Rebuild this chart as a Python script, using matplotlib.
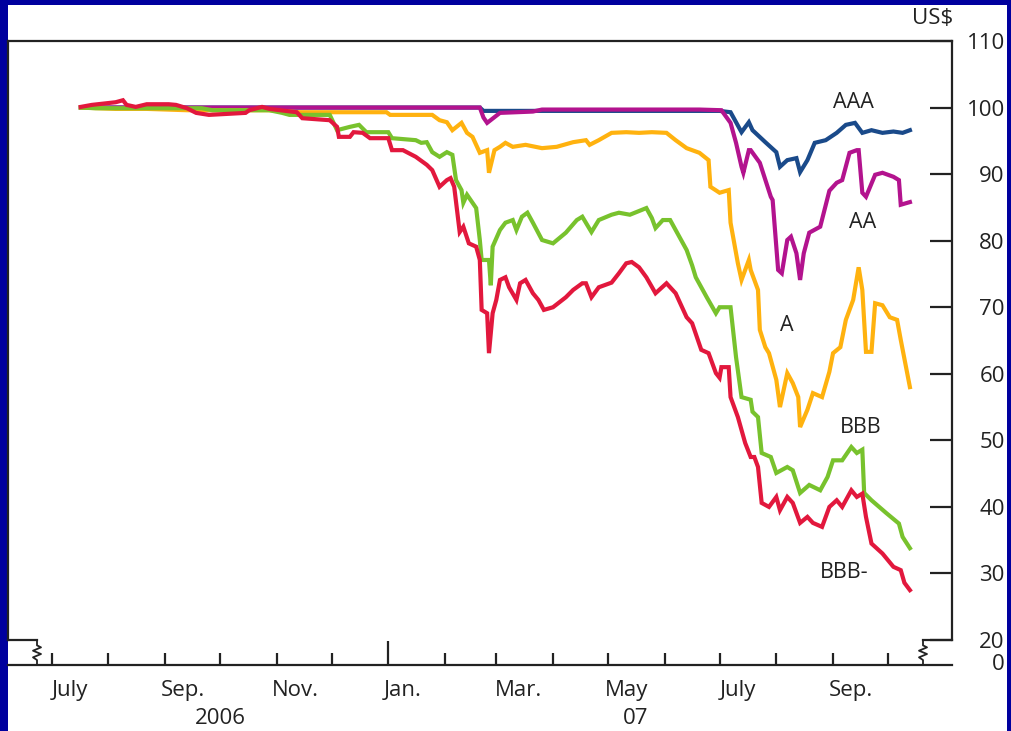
import numpy as np
import matplotlib
matplotlib.use("Agg")
import matplotlib.pyplot as plt
import matplotlib.dates as mdates
import matplotlib.transforms as mtransforms
from matplotlib.patches import Rectangle

plt.rcParams['font.family'] = ['Open Sans', 'DejaVu Sans']

# Prices of sub-prime mortgage-backed indices by rating (US$, start = 100)
aaa_dates = ['2006-07-17', '2007-02-20', '2007-02-22', '2007-07-01', '2007-07-07', '2007-07-13',
             '2007-07-17', '2007-07-19', '2007-07-26', '2007-08-01', '2007-08-03', '2007-08-07',
             '2007-08-12', '2007-08-14', '2007-08-18', '2007-08-22', '2007-08-28', '2007-09-03',
             '2007-09-08', '2007-09-13', '2007-09-17', '2007-09-22', '2007-09-28', '2007-10-04',
             '2007-10-09', '2007-10-13']
aaa_vals = [100, 100, 99.5, 99.5, 99.3, 96.3,
            97.8, 96.6, 94.8, 93.3, 91.1, 92.1,
            92.4, 90.3, 92.1, 94.7, 95.1, 96.2,
            97.4, 97.7, 96.2, 96.6, 96.2, 96.4,
            96.2, 96.6]

aa_dates = ['2006-07-17', '2007-02-20', '2007-02-22', '2007-02-24', '2007-03-03', '2007-03-21',
            '2007-03-26', '2007-06-20', '2007-07-02', '2007-07-07', '2007-07-10', '2007-07-13',
            '2007-07-14', '2007-07-17', '2007-07-18', '2007-07-23', '2007-07-29', '2007-07-30',
            '2007-08-02', '2007-08-04', '2007-08-07', '2007-08-09', '2007-08-12', '2007-08-14',
            '2007-08-16', '2007-08-19', '2007-08-25', '2007-08-30', '2007-09-03', '2007-09-06',
            '2007-09-10', '2007-09-14', '2007-09-15', '2007-09-17', '2007-09-19', '2007-09-24',
            '2007-09-28', '2007-10-04', '2007-10-07', '2007-10-08', '2007-10-13']
aa_vals = [100, 100, 98.5, 97.7, 99.2, 99.4,
           99.7, 99.7, 99.6, 97.7, 94.7, 91.1,
           90.2, 93.6, 93.6, 91.7, 86.6, 86.1,
           75.6, 75.1, 80.1, 80.6, 78.1, 74.1,
           78.1, 81.2, 82.1, 87.5, 88.7, 89.1,
           93.2, 93.6, 93.6, 87.2, 86.6, 89.9,
           90.2, 89.6, 89.1, 85.4, 85.8]

a_dates = ['2006-07-17', '2006-08-05', '2006-08-22', '2006-09-13', '2006-10-28', '2006-11-13',
           '2006-12-31', '2007-01-02', '2007-01-25', '2007-01-29', '2007-02-02', '2007-02-05',
           '2007-02-10', '2007-02-13', '2007-02-16', '2007-02-20', '2007-02-24', '2007-02-25',
           '2007-02-28', '2007-03-03', '2007-03-06', '2007-03-10', '2007-03-17', '2007-03-26',
           '2007-04-03', '2007-04-12', '2007-04-19', '2007-04-21', '2007-04-26', '2007-05-03',
           '2007-05-11', '2007-05-18', '2007-05-25', '2007-06-02', '2007-06-07', '2007-06-13',
           '2007-06-20', '2007-06-25', '2007-06-26', '2007-07-01', '2007-07-06', '2007-07-07',
           '2007-07-11', '2007-07-13', '2007-07-17', '2007-07-18', '2007-07-22', '2007-07-23',
           '2007-07-26', '2007-07-28', '2007-08-01', '2007-08-03', '2007-08-07', '2007-08-10',
           '2007-08-13', '2007-08-14', '2007-08-18', '2007-08-21', '2007-08-26', '2007-08-30',
           '2007-09-01', '2007-09-05', '2007-09-08', '2007-09-12', '2007-09-15', '2007-09-17',
           '2007-09-19', '2007-09-22', '2007-09-24', '2007-09-28', '2007-10-02', '2007-10-06',
           '2007-10-08', '2007-10-13']
a_vals = [100, 99.8, 99.8, 99.6, 99.6, 99.3,
          99.3, 98.9, 98.9, 98.1, 97.8, 96.6,
          97.7, 96.2, 95.6, 93.2, 93.6, 90.2,
          93.6, 94.1, 94.7, 94.1, 94.4, 93.9,
          94.1, 94.8, 95.1, 94.4, 95.1, 96.2,
          96.3, 96.2, 96.3, 96.2, 95.1, 93.9,
          93.2, 92.1, 88.1, 87.2, 87.6, 82.7,
          76.6, 74.1, 77.1, 75.6, 72.6, 66.6,
          64.0, 63.1, 59.1, 55.0, 60.1, 58.6,
          56.5, 52.0, 54.6, 57.1, 56.5, 60.3,
          63.1, 64.0, 68.1, 71.1, 76.0, 72.6,
          63.3, 63.3, 70.6, 70.3, 68.5, 68.1,
          65.1, 58.0]

bbb_dates = ['2006-07-17', '2006-07-25', '2006-09-21', '2006-09-27', '2006-10-28', '2006-11-04',
             '2006-11-08', '2006-11-30', '2006-12-04', '2006-12-11', '2006-12-16', '2006-12-20',
             '2007-01-01', '2007-01-03', '2007-01-16', '2007-01-19', '2007-01-22', '2007-01-25',
             '2007-01-29', '2007-02-02', '2007-02-05', '2007-02-07', '2007-02-10', '2007-02-11',
             '2007-02-13', '2007-02-18', '2007-02-20', '2007-02-21', '2007-02-25', '2007-02-26',
             '2007-02-27', '2007-03-03', '2007-03-06', '2007-03-10', '2007-03-12', '2007-03-15',
             '2007-03-18', '2007-03-21', '2007-03-26', '2007-04-01', '2007-04-08', '2007-04-14',
             '2007-04-17', '2007-04-22', '2007-04-26', '2007-05-03', '2007-05-07', '2007-05-13',
             '2007-05-22', '2007-05-25', '2007-05-27', '2007-05-31', '2007-06-04', '2007-06-09',
             '2007-06-13', '2007-06-16', '2007-06-18', '2007-06-24', '2007-06-29', '2007-07-01',
             '2007-07-07', '2007-07-10', '2007-07-13', '2007-07-18', '2007-07-19', '2007-07-22',
             '2007-07-24', '2007-07-29', '2007-08-01', '2007-08-07', '2007-08-10', '2007-08-14',
             '2007-08-19', '2007-08-25', '2007-08-29', '2007-09-01', '2007-09-06', '2007-09-11',
             '2007-09-14', '2007-09-17', '2007-09-18', '2007-09-22', '2007-09-30', '2007-10-07',
             '2007-10-09', '2007-10-13']
bbb_vals = [100, 99.9, 99.9, 99.6, 99.6, 99.2,
            98.9, 98.9, 96.6, 97.1, 97.4, 96.3,
            96.3, 95.4, 95.1, 94.7, 94.8, 93.3,
            92.6, 93.3, 92.9, 89.1, 87.6, 85.7,
            86.9, 84.9, 80.1, 77.1, 77.1, 73.3,
            79.1, 81.6, 82.7, 83.1, 81.6, 83.6,
            84.2, 82.7, 80.1, 79.6, 81.2, 83.1,
            83.6, 81.3, 83.1, 83.9, 84.2, 83.9,
            84.9, 83.4, 81.9, 83.1, 83.1, 80.6,
            78.6, 76.3, 74.5, 71.5, 69.1, 70.0,
            70.0, 62.5, 56.5, 56.1, 54.3, 53.5,
            48.1, 47.5, 45.1, 46.0, 45.5, 42.1,
            43.3, 42.5, 44.5, 47.0, 47.0, 49.0,
            48.1, 48.6, 42.1, 41.0, 39.1, 37.5,
            35.5, 33.8]

bbbm_dates = ['2006-07-17', '2006-07-23', '2006-08-05', '2006-08-09', '2006-08-11', '2006-08-16',
              '2006-08-22', '2006-09-03', '2006-09-07', '2006-09-13', '2006-09-18', '2006-09-25',
              '2006-10-15', '2006-10-17', '2006-10-24', '2006-10-28', '2006-11-12', '2006-11-15',
              '2006-11-30', '2006-12-04', '2006-12-05', '2006-12-11', '2006-12-13', '2006-12-18',
              '2006-12-22', '2007-01-01', '2007-01-03', '2007-01-09', '2007-01-16', '2007-01-22',
              '2007-01-25', '2007-01-29', '2007-02-02', '2007-02-04', '2007-02-06', '2007-02-09',
              '2007-02-11', '2007-02-14', '2007-02-18', '2007-02-20', '2007-02-21', '2007-02-24',
              '2007-02-25', '2007-02-27', '2007-03-01', '2007-03-03', '2007-03-06', '2007-03-08',
              '2007-03-12', '2007-03-14', '2007-03-17', '2007-03-21', '2007-03-24', '2007-03-27',
              '2007-04-01', '2007-04-08', '2007-04-12', '2007-04-17', '2007-04-19', '2007-04-22',
              '2007-04-26', '2007-05-03', '2007-05-07', '2007-05-11', '2007-05-14', '2007-05-18',
              '2007-05-22', '2007-05-27', '2007-06-02', '2007-06-07', '2007-06-13', '2007-06-16',
              '2007-06-21', '2007-06-25', '2007-06-29', '2007-07-01', '2007-07-02', '2007-07-06',
              '2007-07-07', '2007-07-11', '2007-07-15', '2007-07-18', '2007-07-20', '2007-07-22',
              '2007-07-24', '2007-07-28', '2007-08-01', '2007-08-03', '2007-08-07', '2007-08-10',
              '2007-08-14', '2007-08-18', '2007-08-21', '2007-08-26', '2007-08-30', '2007-09-03',
              '2007-09-06', '2007-09-11', '2007-09-14', '2007-09-17', '2007-09-19', '2007-09-22',
              '2007-09-28', '2007-10-04', '2007-10-08', '2007-10-10', '2007-10-13']
bbbm_vals = [100.1, 100.4, 100.8, 101.1, 100.4, 100.1,
             100.5, 100.5, 100.4, 99.9, 99.2, 98.9,
             99.2, 99.6, 100.1, 99.8, 99.3, 98.4,
             98.1, 97.1, 95.6, 95.6, 96.3, 96.2,
             95.4, 95.4, 93.6, 93.6, 92.6, 91.4,
             90.6, 88.1, 89.1, 89.4, 88.1, 81.3,
             82.1, 79.6, 79.1, 77.1, 69.6, 69.1,
             63.1, 69.1, 71.1, 74.1, 74.5, 73.0,
             71.1, 73.6, 74.1, 72.1, 71.1, 69.6,
             70.0, 71.5, 72.6, 73.6, 73.6, 71.5,
             73.0, 73.7, 75.1, 76.6, 76.8, 76.0,
             74.5, 72.1, 73.6, 72.1, 68.5, 67.6,
             63.6, 63.1, 60.1, 59.4, 61.0, 61.0,
             56.5, 53.5, 49.6, 47.5, 47.5, 46.0,
             40.6, 40.0, 41.5, 39.5, 41.5, 40.6,
             37.6, 38.5, 37.6, 37.0, 40.0, 41.0,
             40.0, 42.5, 41.5, 42.0, 38.5, 34.5,
             33.0, 31.0, 30.5, 28.6, 27.5]

series_names = ['AAA', 'AA', 'A', 'BBB', 'BBB-']
series_colors = ['#1a4a8a', '#b3138e', '#ffb20f', '#78c22d', '#e2183d']

# label positions (date, value) next to each line
label_dates = ['2007-09-12', '2007-09-17', '2007-08-07', '2007-09-16', '2007-09-07']
label_vals = [100.7, 82.8, 67.2, 52.0, 30.1]

y_ticks = [20, 30, 40, 50, 60, 70, 80, 90, 100, 110]
month_ticks = np.arange('2006-07', '2007-11', dtype='datetime64[M]').astype('datetime64[D]')
month_names = ['July', 'Sep.', 'Nov.', 'Jan.', 'Mar.', 'May', 'July', 'Sep.']
month_name_dates = ['2006-07-11', '2006-09-11', '2006-11-11', '2007-01-09', '2007-03-13',
                    '2007-05-11', '2007-07-11', '2007-09-11']
year_names = ['2006', '07']
year_dates = ['2006-10-01', '2007-05-16']

W, H = 1011, 731
fig = plt.figure(figsize=(W / 100, H / 100), dpi=100)
fig.patch.set_facecolor('#00009e')
fig.patches.append(Rectangle((8 / W, 0), (1007 - 8) / W, (H - 5) / H,
                             transform=fig.transFigure, facecolor='white',
                             edgecolor='none', zorder=-5))

ax = fig.add_axes([8 / W, (H - 665) / H, 944 / W, 624 / H])
ax.set_zorder(2)
ax.set_facecolor('white')

all_dates = [aaa_dates, aa_dates, a_dates, bbb_dates, bbbm_dates]
all_vals = [aaa_vals, aa_vals, a_vals, bbb_vals, bbbm_vals]
for d, v, c in zip(all_dates, all_vals, series_colors):
    ax.plot(np.array(d, dtype='datetime64[D]'), v, color=c, linewidth=3.0,
            solid_joinstyle='miter')

for name, d, v in zip(series_names, label_dates, label_vals):
    ax.text(np.datetime64(d), v, name, ha='center', va='center', fontsize=15.5,
            color='#222222')

x0 = mdates.date2num(np.datetime64('2006-07-01'))
x1 = mdates.date2num(np.datetime64('2007-10-01'))
ax.set_xlim(x0 - 23.8, x1 + 35.0)
ax.set_ylim(16.25, 110)

frame_c = '#222222'
frame_w = 1.6
for s in ['left', 'right', 'top', 'bottom']:
    ax.spines[s].set_color(frame_c)
    ax.spines[s].set_linewidth(frame_w)
ax.spines['left'].set_bounds(20, 110)
ax.spines['right'].set_bounds(20, 110)

# axis break marks at the bottom corners
trans = mtransforms.blended_transform_factory(ax.transAxes, ax.transData)
dx = 4 / 944
for edge, xb in [(0.0, 29 / 944), (1.0, 1 - 29 / 944)]:
    ax.plot([edge, xb], [20, 20], color=frame_c, lw=frame_w, transform=trans,
            clip_on=False, solid_capstyle='projecting')
    zx = [xb, xb, xb + dx, xb - dx, xb + dx, xb - dx, xb, xb]
    zy = [20, 19.2, 18.9, 18.4, 17.9, 17.4, 17.0, 16.25]
    ax.plot(zx, zy, color=frame_c, lw=1.3, transform=trans, clip_on=False)

# y axis on the right, ticks inward
ax.yaxis.tick_right()
ax.set_yticks(y_ticks)
ax.set_yticklabels([str(t) for t in y_ticks])
ax.tick_params(axis='y', direction='in', length=16, width=frame_w, color=frame_c,
               pad=38, labelsize=16, labelcolor='#222222')
for lab in ax.get_yticklabels():
    lab.set_horizontalalignment('right')
fig.text(1005 / W, (H - 665) / H, '0', ha='right', va='center', fontsize=16,
         color='#222222')
fig.text(953 / W, (H - 18) / H, 'US$', ha='right', va='center', fontsize=16,
         color='#222222')

# x axis: monthly ticks pointing up, longer one at the turn of the year
ax.set_xticks(month_ticks)
ax.set_xticklabels([])
ax.tick_params(axis='x', direction='in', length=8.6, width=frame_w, color=frame_c)
for t, m in zip(ax.xaxis.get_major_ticks(), month_ticks):
    if str(m).endswith('01-01'):
        t.tick1line.set_markersize(17)
ax.set_xticks(np.array(month_name_dates, dtype='datetime64[D]'), minor=True)
ax.set_xticklabels(month_names, minor=True)
ax.tick_params(axis='x', which='minor', length=0, pad=11, labelsize=16,
               labelcolor='#222222')

for name, d in zip(year_names, year_dates):
    ax.text(mdates.date2num(np.datetime64(d)), (H - 718) / H, name,
            transform=mtransforms.blended_transform_factory(ax.transData, fig.transFigure),
            ha='center', va='center', fontsize=16, color='#222222')

fig.savefig('out.png', dpi=100, facecolor=fig.get_facecolor())
